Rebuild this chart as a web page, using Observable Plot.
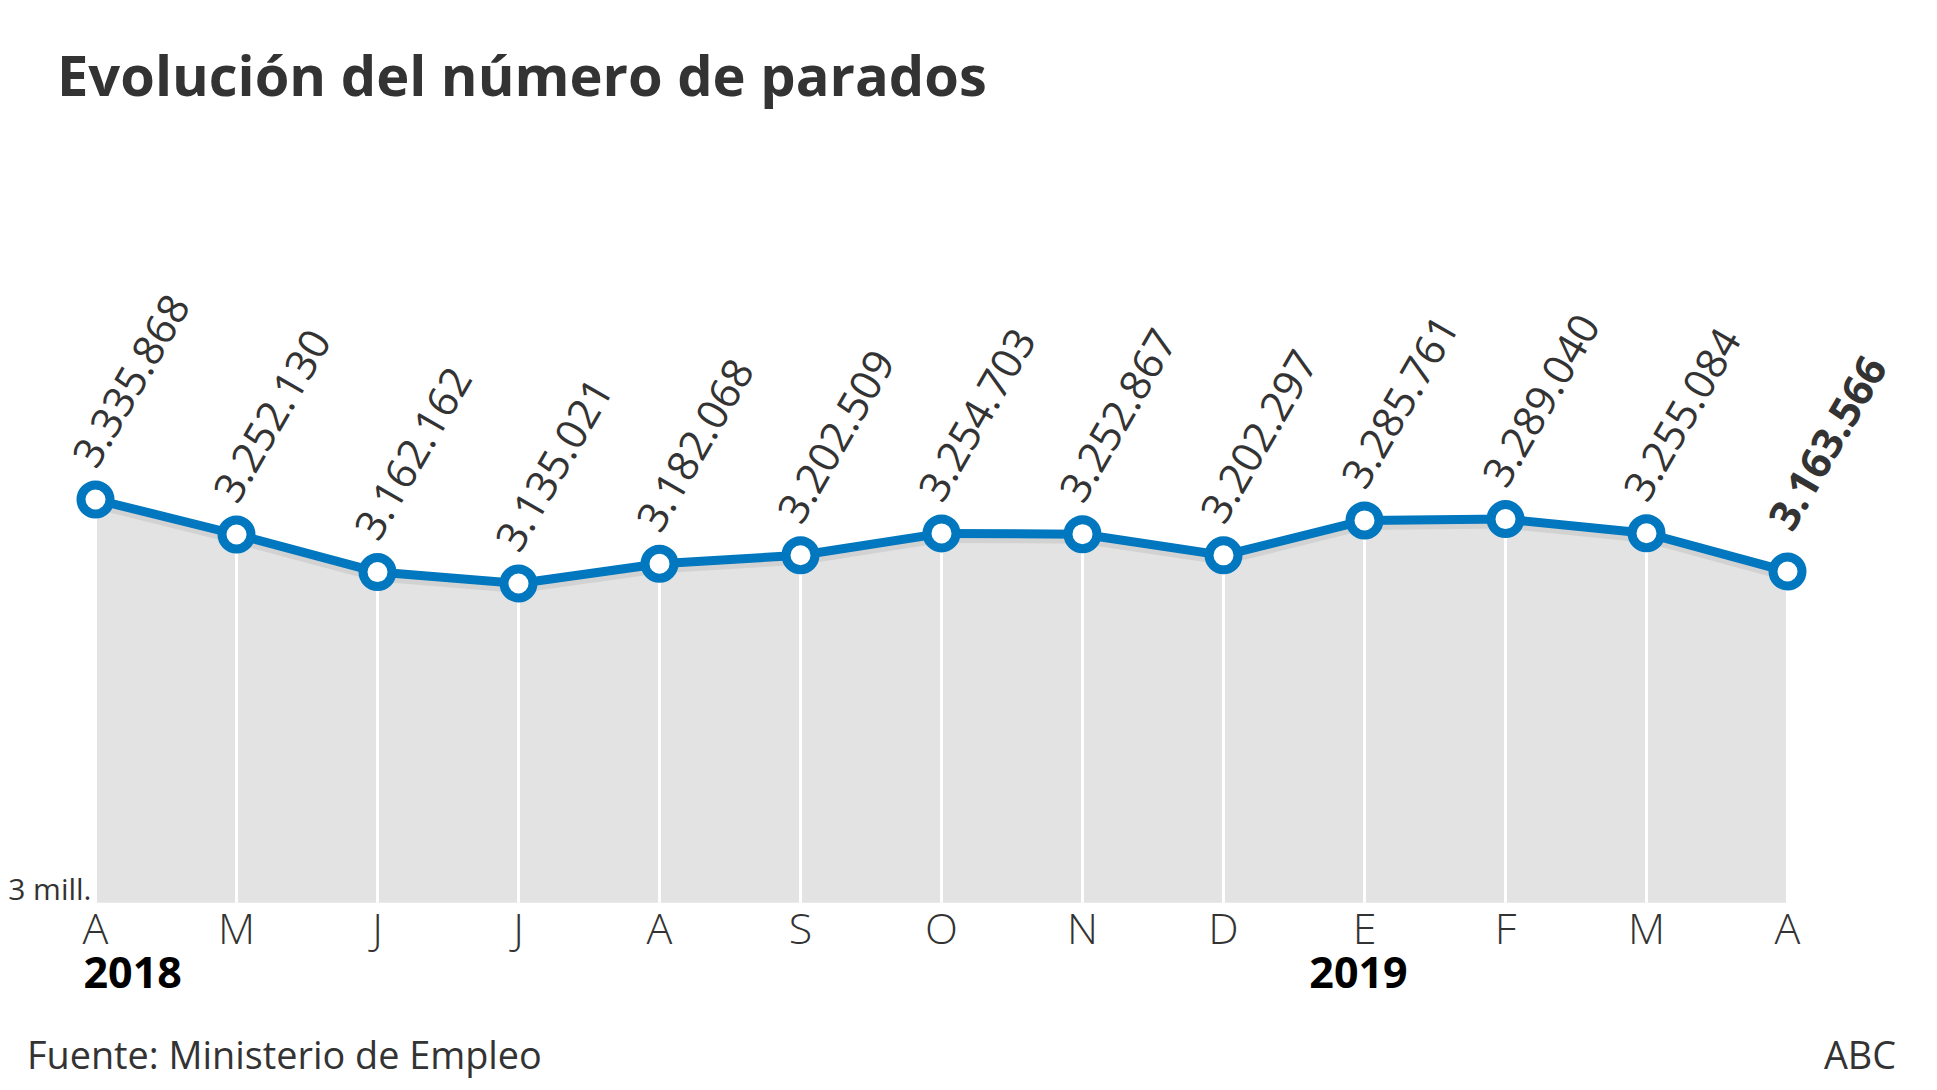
<!DOCTYPE html>
<html>
<head>
<meta charset="utf-8">
<script src="https://cdn.jsdelivr.net/npm/d3@7"></script>
<script src="https://cdn.jsdelivr.net/npm/@observablehq/plot@0.6"></script>
<style>
  html, body { margin: 0; padding: 0; background: #fff; }
  body { width: 1937px; height: 1090px; position: relative; overflow: hidden; font-family: "Open Sans", sans-serif; }
  #title { position: absolute; left: 57px; top: 36px; margin: 0; font-size: 56px; font-weight: 700; color: #333; line-height: normal; white-space: nowrap; }
  #chart { position: absolute; left: 0; top: 140px; }
  #source { position: absolute; left: 27px; top: 1029px; font-size: 37.8px; color: #333; line-height: normal; }
  #credit { position: absolute; right: 41px; top: 1029px; font-size: 37.8px; color: #333; line-height: normal; }
</style>
</head>
<body>
<h1 id="title">Evolución del número de parados</h1>
<div id="chart"></div>
<div id="source">Fuente: Ministerio de Empleo</div>
<div id="credit">ABC</div>
<script>
// ---- data ----
const months = ["2018-04","2018-05","2018-06","2018-07","2018-08","2018-09","2018-10","2018-11","2018-12","2019-01","2019-02","2019-03","2019-04"];
const monthLabels = ["A","M","J","J","A","S","O","N","D","E","F","M","A"];
const parados = [3335868, 3252130, 3162162, 3135021, 3182068, 3202509, 3254703, 3252867, 3202297, 3285761, 3289040, 3255084, 3163566];
const yearMonths = ["2018-04", "2019-01"];
const yearNames = ["2018", "2019"];
const yFloor = 2370000;          // value at the bottom edge of the shaded area
const yFloorLabel = "3 mill.";

// ---- build ----
const data = months.map((m, i) => ({month: m, value: parados[i], last: i === months.length - 1}));
const labelOf = new Map(months.map((m, i) => [m, monthLabels[i]]));
const yearOf = new Map(yearMonths.map((m, i) => [m, yearNames[i]]));
const es = d3.formatLocale({decimal: ",", thousands: ".", grouping: [3], currency: ["", " €"]});
const fmt = es.format(",d");

const blue = "#0077be";
const W = 1937, H = 870;
const plot = Plot.plot({
  width: W,
  height: H,
  marginLeft: 93,
  marginRight: W - 1789,
  marginTop: 359,
  marginBottom: H - 762.7,
  style: {fontFamily: "Open Sans", color: "#333", background: "transparent", overflow: "visible"},
  x: {type: "point", domain: months, padding: 0, label: null},
  y: {domain: [yFloor, d3.max(parados)], label: null},
  marks: [
    Plot.areaY(data, {x: "month", y1: () => yFloor, y2: "value", fill: "#e3e3e3"}),
    Plot.line(data, {x: "month", y: "value", stroke: "#d2d2d2", strokeWidth: 9, dy: 5}),
    Plot.ruleX(data, {x: "month", y1: () => yFloor, y2: "value", stroke: "white", strokeWidth: 3}),
    Plot.line(data, {x: "month", y: "value", stroke: blue, strokeWidth: 9, strokeLinejoin: "round"}),
    Plot.dot(data, {x: "month", y: "value", r: 14.5, fill: "white", stroke: blue, strokeWidth: 9}),
    Plot.text(data.filter(d => !d.last), {x: "month", y: "value", text: d => fmt(d.value), rotate: -60, textAnchor: "start", lineAnchor: "bottom", dx: 1, dy: -29, fontSize: 42, fill: "#333"}),
    Plot.text(data.filter(d => d.last), {x: "month", y: "value", text: d => fmt(d.value), rotate: -60, textAnchor: "start", lineAnchor: "bottom", dx: 5, dy: -38, fontSize: 42, fontWeight: "bold", fill: "#333"}),
    Plot.axisX({tickSize: 0, tickPadding: 10, tickFormat: m => labelOf.get(m), fontSize: 43, fontWeight: 300, fill: "#333", label: null}),
    Plot.axisY({ticks: [yFloor], tickFormat: () => yFloorLabel, tickSize: 0, tickPadding: 2, fontSize: 30, lineAnchor: "bottom", dy: -3, fill: "#333", label: null}),
    Plot.text(yearMonths.slice(0, 1), {x: d => d, text: d => yearOf.get(d), frameAnchor: "bottom", textAnchor: "start", lineAnchor: "bottom", dx: -12, dy: 85, fontSize: 43, fontWeight: "bold", fill: "#000"}),
    Plot.text(yearMonths.slice(1, 2), {x: d => d, text: d => yearOf.get(d), frameAnchor: "bottom", textAnchor: "middle", lineAnchor: "bottom", dx: -6, dy: 85, fontSize: 43, fontWeight: "bold", fill: "#000"})
  ]
});
document.getElementById("chart").appendChild(plot);
</script>
</body>
</html>
